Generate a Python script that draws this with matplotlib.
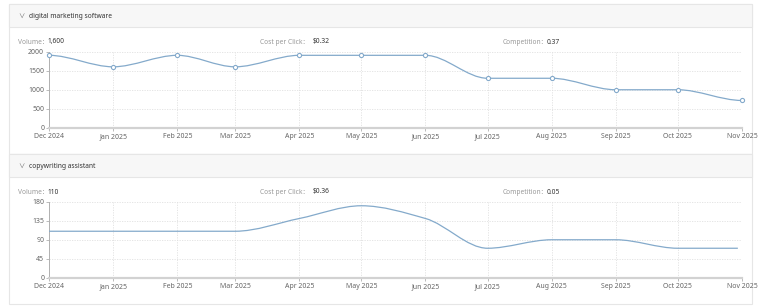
import numpy as np
import pandas as pd
import matplotlib
matplotlib.use("Agg")
import matplotlib.pyplot as plt
import matplotlib.dates as mdates
from matplotlib.path import Path
from matplotlib.patches import PathPatch, Rectangle

plt.rcParams['font.family'] = ['Noto Sans', 'Noto Sans CJK SC', 'DejaVu Sans']

W, H = 766, 307

# --- data ---
months = ["2024-12-01", "2025-01-01", "2025-02-01", "2025-03-01", "2025-04-01", "2025-05-01",
          "2025-06-01", "2025-07-01", "2025-08-01", "2025-09-01", "2025-10-01", "2025-11-01"]

kw1_name = "digital marketing software"
kw1_volume = "1,600"
kw1_cpc = "$0.32"
kw1_comp = "0.37"
kw1_dates = months
kw1_values = [1900, 1600, 1900, 1600, 1900, 1900, 1900, 1300, 1300, 1000, 1000, 720]
kw1_yticks = [0, 500, 1000, 1500, 2000]

kw2_name = "copywriting assistant"
kw2_volume = "110"
kw2_cpc = "$0.36"
kw2_comp = "0.05"
kw2_dates = months[:-1] + ["2025-10-30"]
kw2_values = [110, 110, 110, 110, 140, 170, 140, 70, 90, 90, 70, 70]
kw2_yticks = [0, 45, 90, 135, 180]

LINE = '#84aacb'
GRID = '#e0e0e0'
AXIS = '#b0b0b0'


def fx(x):
    return x / W


def fy(y):
    return 1 - y / H


def pchip_path(x, y):
    # monotone cubic, turned into bezier segments
    x = np.asarray(x, float)
    y = np.asarray(y, float)
    h = np.diff(x)
    d = np.diff(y) / h
    m = np.zeros_like(y)
    for i in range(1, len(y) - 1):
        if d[i - 1] * d[i] > 0:
            w1 = 2 * h[i] + h[i - 1]
            w2 = h[i] + 2 * h[i - 1]
            m[i] = (w1 + w2) / (w1 / d[i - 1] + w2 / d[i])
    verts = [(x[0], y[0])]
    codes = [Path.MOVETO]
    for i in range(len(x) - 1):
        verts += [(x[i] + h[i] / 3, y[i] + m[i] * h[i] / 3),
                  (x[i + 1] - h[i] / 3, y[i + 1] - m[i + 1] * h[i] / 3),
                  (x[i + 1], y[i + 1])]
        codes += [Path.CURVE4] * 3
    return Path(verts, codes)


fig = plt.figure(figsize=(W / 100, H / 100), dpi=100)
fig.patch.set_facecolor('white')


def panel(top, name, volume, cpc, comp, dates, values, yticks, markers):
    # header bar and body box
    fig.patches.append(Rectangle((fx(9), fy(top + 150)), fx(743), (150) / H,
                                 transform=fig.transFigure, facecolor='white',
                                 edgecolor='#e6e6e6', lw=0.8, zorder=-5))
    fig.patches.append(Rectangle((fx(9), fy(top + 23)), fx(743), 23 / H,
                                 transform=fig.transFigure, facecolor='#f7f7f7',
                                 edgecolor='#e6e6e6', lw=0.8, zorder=-4))
    fig.text(fx(18), fy(top + 12), "\u2228", fontsize=4.5, color='#666666', va='center')
    fig.text(fx(29), fy(top + 12), name, fontsize=4.8, color='#333333', va='center')

    ty = top + 38
    fig.text(fx(18), fy(ty), "Volume\uff1a", fontsize=4.8, color='#999999', va='center')
    fig.text(fx(47), fy(ty), volume, fontsize=4.8, color='#333333', va='center')
    fig.text(fx(260), fy(ty), "Cost per Click\uff1a", fontsize=4.8, color='#999999', va='center')
    fig.text(fx(313), fy(ty), cpc, fontsize=4.8, color='#333333', va='center')
    fig.text(fx(503), fy(ty), "Competition\uff1a", fontsize=4.8, color='#999999', va='center')
    fig.text(fx(547), fy(ty), comp, fontsize=4.8, color='#333333', va='center')

    ax_top = top + 47.5
    ax_bot = top + 124
    ax = fig.add_axes([fx(49), fy(ax_bot), fx(693), (ax_bot - ax_top) / H])
    ax.set_facecolor('none')
    d = mdates.date2num(pd.to_datetime(dates))
    xt = mdates.date2num(pd.to_datetime(months))
    ax.set_xlim(xt[0], xt[-1])
    ax.set_ylim(yticks[0], yticks[-1])
    ax.set_xticks(xt)
    ax.set_xticklabels([pd.Timestamp(m).strftime('%b %Y') for m in months])
    ax.set_yticks(yticks)
    ax.grid(True, color=GRID, ls=(0, (1.5, 1.5)), lw=0.6)
    for s in ['top', 'right']:
        ax.spines[s].set_visible(False)
    ax.spines['left'].set_color(AXIS)
    ax.spines['left'].set_linewidth(0.7)
    ax.spines['bottom'].set_color('#d2d2d2')
    ax.spines['bottom'].set_linewidth(1.6)
    ax.tick_params(axis='both', labelsize=5, colors='#666666', length=2.5, width=0.6, pad=1)
    ax.tick_params(axis='x', color=AXIS)
    ax.tick_params(axis='y', color=AXIS)

    ax.add_patch(PathPatch(pchip_path(d, values), facecolor='none', edgecolor=LINE,
                           lw=0.9, zorder=3))
    if markers:
        ax.plot(d, values, ls='none', marker='o', ms=3, mfc='white', mec=LINE, mew=0.8,
                zorder=4, clip_on=False)
    return ax


panel(4, kw1_name, kw1_volume, kw1_cpc, kw1_comp, kw1_dates, kw1_values, kw1_yticks, True)
panel(154, kw2_name, kw2_volume, kw2_cpc, kw2_comp, kw2_dates, kw2_values, kw2_yticks, False)

fig.savefig('out.png', dpi=100)
